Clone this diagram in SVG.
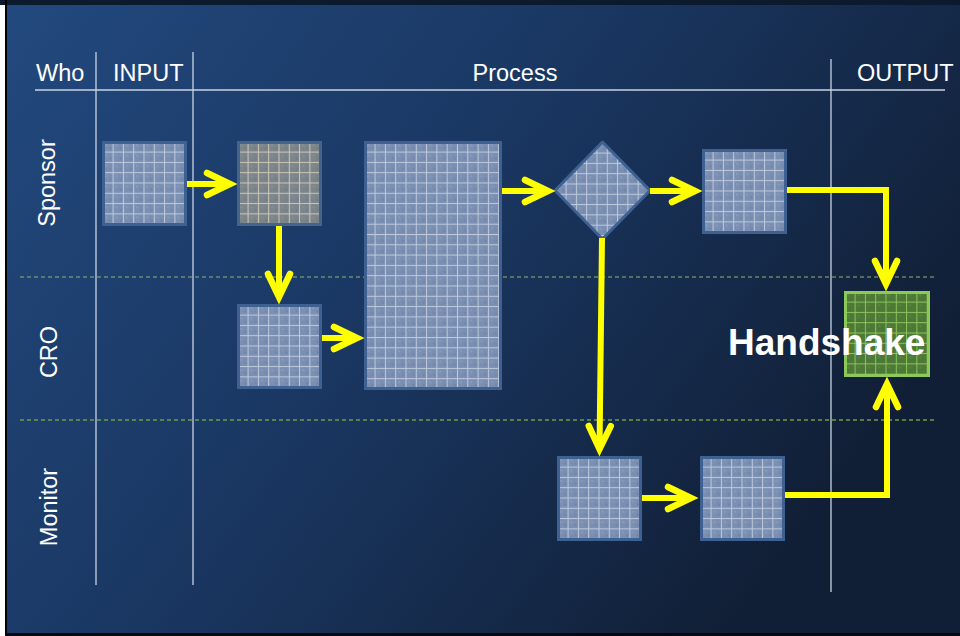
<svg xmlns="http://www.w3.org/2000/svg" width="960" height="636" viewBox="0 0 960 636">
  <defs>
    <linearGradient id="bg" x1="0" y1="0" x2="1" y2="0.5">
      <stop offset="0" stop-color="#22497e"/>
      <stop offset="0.5" stop-color="#1a3762"/>
      <stop offset="1" stop-color="#111f36"/>
    </linearGradient>
    <pattern id="gridBlue" patternUnits="userSpaceOnUse" x="0.3" y="0.3" width="10.3" height="10.3">
      <rect width="10.3" height="10.3" fill="#7a8fb2"/>
      <rect x="3" y="3" width="2" height="2" fill="#889cbd"/>
      <rect x="7" y="6" width="2" height="2" fill="#6e84a8"/>
      <rect x="0" y="0" width="10.3" height="1" fill="#bfcbde"/>
      <rect x="0" y="0" width="1" height="10.3" fill="#bfcbde"/>
    </pattern>
    <pattern id="gridTan" patternUnits="userSpaceOnUse" x="0.3" y="0.3" width="10.3" height="10.3">
      <rect width="10.3" height="10.3" fill="#7c858b"/>
      <rect x="3" y="3" width="2" height="2" fill="#878f94"/>
      <rect x="7" y="6" width="2" height="2" fill="#737c84"/>
      <rect x="0" y="0" width="10.3" height="1" fill="#cdc8b4"/>
      <rect x="0" y="0" width="1" height="10.3" fill="#cdc8b4"/>
    </pattern>
    <pattern id="gridGreen" patternUnits="userSpaceOnUse" x="0.3" y="0.3" width="10.3" height="10.3">
      <rect width="10.3" height="10.3" fill="#4d7936"/>
      <rect x="3" y="3" width="2" height="2" fill="#5a8640"/>
      <rect x="0" y="0" width="10.3" height="1" fill="#8ec35e"/>
      <rect x="0" y="0" width="1" height="10.3" fill="#8ec35e"/>
    </pattern>
    <marker id="chev" markerUnits="userSpaceOnUse" orient="auto" refX="0" refY="0" markerWidth="40" markerHeight="40" overflow="visible">
      <path d="M-23,-11 L0,0 L-23,11" fill="none" stroke="#ffff00" stroke-width="6.5" stroke-linecap="round" stroke-linejoin="miter"/>
    </marker>
  </defs>
  <style>
    .lbl { font-family: "Liberation Sans", Arial, sans-serif; font-size: 23.5px; fill: #ffffff; }
    .hs { font-family: "Liberation Sans", Arial, sans-serif; font-size: 37px; font-weight: bold; fill: #ffffff; }
    .rule { stroke: #c9d3e3; stroke-width: 1.3; fill: none; }
    .lane1 { stroke: #8db673; stroke-width: 1.2; stroke-dasharray: 4 3; fill: none; }
    .lane2 { stroke: #6f9c45; stroke-width: 1.5; stroke-dasharray: 4 3; fill: none; }
    .rim { fill: #3e6192; }
    .blue { fill: url(#gridBlue); }
    .tan { fill: url(#gridTan); }
    .conn { fill: none; stroke: #ffff00; stroke-width: 6; stroke-linejoin: miter; marker-end: url(#chev); }
  </style>

  <!-- frame / background -->
  <rect x="0" y="0" width="960" height="636" fill="#ffffff"/>
  <rect x="6" y="0" width="954" height="636" fill="url(#bg)"/>
  <rect x="0" y="0" width="960" height="5" fill="#0c1a2e"/>
  <rect x="5" y="0" width="2" height="636" fill="#000000"/>
  <rect x="5" y="633" width="955" height="3" fill="#05090f"/>

  <!-- table rules -->
  <g id="grid-lines">
    <line class="rule" x1="35" y1="90" x2="945" y2="90"/>
    <line class="rule" x1="96" y1="52" x2="96" y2="585"/>
    <line class="rule" x1="193" y1="52" x2="193" y2="585"/>
    <line class="rule" x1="831" y1="59" x2="831" y2="592"/>
    <line class="lane1" x1="20" y1="277" x2="935" y2="277"/>
    <line class="lane2" x1="20" y1="420" x2="935" y2="420"/>
  </g>

  <!-- headers -->
  <g id="headers">
    <text class="lbl" x="36" y="81">Who</text>
    <text class="lbl" x="113" y="81">INPUT</text>
    <text class="lbl" x="515" y="81" text-anchor="middle">Process</text>
    <text class="lbl" x="857" y="81">OUTPUT</text>
    <text class="lbl" transform="translate(55,183) rotate(-90)" text-anchor="middle">Sponsor</text>
    <text class="lbl" transform="translate(57,352) rotate(-90)" text-anchor="middle">CRO</text>
    <text class="lbl" transform="translate(57,507) rotate(-90)" text-anchor="middle">Monitor</text>
  </g>

  <!-- nodes -->
  <g id="input-box" transform="translate(102,141)">
    <rect class="rim" width="85" height="85"/>
    <rect class="blue" x="3" y="3" width="79" height="79"/>
  </g>
  <g id="sponsor-step1" transform="translate(237,141)">
    <rect fill="#44648c" width="85" height="85"/>
    <rect class="tan" x="3" y="3" width="79" height="79"/>
  </g>
  <g id="cro-step1" transform="translate(237,304)">
    <rect class="rim" width="85" height="85"/>
    <rect class="blue" x="3" y="3" width="79" height="79"/>
  </g>
  <g id="process-main" transform="translate(364,141)">
    <rect class="rim" width="138" height="249"/>
    <rect class="blue" x="3" y="3" width="132" height="243"/>
  </g>
  <g id="decision" transform="translate(555,142)">
    <polygon class="blue" points="47.5,0 95,48.5 47.5,97 0,48.5" stroke="#3e6192" stroke-width="3" stroke-linejoin="round"/>
  </g>
  <g id="sponsor-step2" transform="translate(702,149)">
    <rect class="rim" width="85" height="85"/>
    <rect class="blue" x="3" y="3" width="79" height="79"/>
  </g>
  <g id="monitor-step1" transform="translate(557,456)">
    <rect class="rim" width="85" height="85"/>
    <rect class="blue" x="3" y="3" width="79" height="79"/>
  </g>
  <g id="monitor-step2" transform="translate(700,456)">
    <rect class="rim" width="85" height="85"/>
    <rect class="blue" x="3" y="3" width="79" height="79"/>
  </g>
  <g id="handshake" transform="translate(844,291)">
    <rect fill="url(#gridGreen)" x="1.5" y="1.5" width="83" height="83" stroke="#8dc85a" stroke-width="3"/>
  </g>

  <!-- connectors -->
  <g id="connectors">
    <path class="conn" d="M187,184 H230"/>
    <path class="conn" d="M279,226 V297"/>
    <path class="conn" d="M322,338 H357"/>
    <path class="conn" d="M502,191 H548"/>
    <path class="conn" d="M650,191 H695"/>
    <path class="conn" d="M787,190 H886 V284"/>
    <path class="conn" d="M602,238 L599.5,449"/>
    <path class="conn" d="M642,498 H691"/>
    <path class="conn" d="M785,495 H887 V384"/>
  </g>

  <text class="hs" x="728" y="355">Handshake</text>
</svg>
